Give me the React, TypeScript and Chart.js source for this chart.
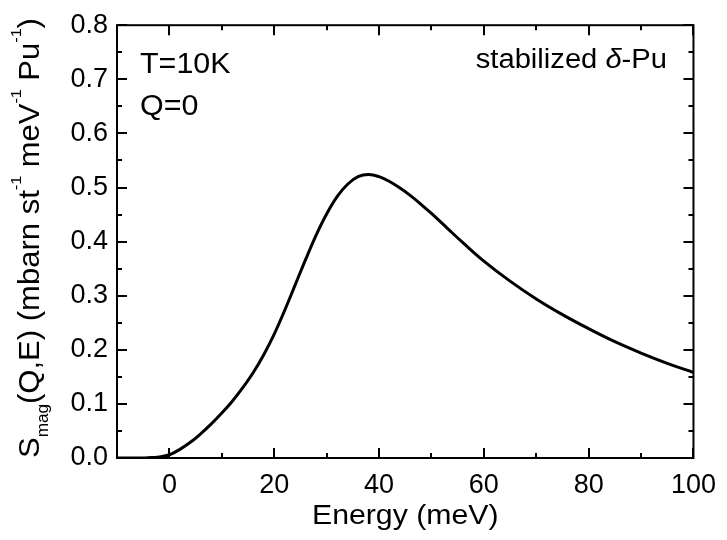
import React, { useEffect, useRef } from 'react';
import { Chart, registerables } from 'chart.js';
Chart.register(...registerables);

// ---- data ----
const energy = [-10, -8, -6, -4, -2, 0, 2, 4, 6, 8, 10, 12, 14, 16, 18, 20, 22, 24, 26, 28, 30, 32, 34, 36, 38, 40, 42, 44, 46, 48, 50, 53, 56, 60, 65, 70, 75, 80, 85, 90, 95, 100];
const smag = [0, 0, 0, 0.0005, 0.002, 0.006, 0.016, 0.029, 0.045, 0.063, 0.083, 0.105, 0.13, 0.158, 0.191, 0.229, 0.273, 0.32, 0.367, 0.412, 0.451, 0.483, 0.506, 0.52, 0.524, 0.52, 0.511, 0.499, 0.485, 0.469, 0.452, 0.425, 0.398, 0.364, 0.327, 0.294, 0.265, 0.239, 0.215, 0.194, 0.175, 0.158];
const xMajor = [0, 20, 40, 60, 80, 100];
const xMinor = [10, 30, 50, 70, 90];
const yMajor = [0, 0.1, 0.2, 0.3, 0.4, 0.5, 0.6, 0.7, 0.8];
const yMinor = [0.05, 0.15, 0.25, 0.35, 0.45, 0.55, 0.65, 0.75];
const xTitle = 'Energy (meV)';
const noteTemp = 'T=10K';
const noteQ = 'Q=0';

const FONT = '"Liberation Sans", Arial, Helvetica, sans-serif';

type Seg = { t: string; size: number; dy?: number; italic?: boolean };

function segFont(s: Seg) {
  return `${s.italic ? 'italic ' : ''}${s.size}px ${FONT}`;
}

function drawSegs(ctx: CanvasRenderingContext2D, segs: Seg[], x: number, y: number, align: 'left' | 'right' | 'center', rotate = 0, hscale = 1) {
  ctx.save();
  ctx.translate(x, y);
  if (rotate) ctx.rotate(rotate);
  ctx.scale(hscale, 1);
  let total = 0;
  for (const s of segs) {
    ctx.font = segFont(s);
    total += ctx.measureText(s.t).width;
  }
  let cx = align === 'left' ? 0 : align === 'right' ? -total : -total / 2;
  ctx.textBaseline = 'alphabetic';
  ctx.textAlign = 'left';
  ctx.fillStyle = '#000';
  for (const s of segs) {
    ctx.font = segFont(s);
    ctx.fillText(s.t, cx, s.dy ?? 0);
    cx += ctx.measureText(s.t).width;
  }
  ctx.restore();
}

const framePlugin = {
  id: 'framePlugin',
  afterDraw(chart: any) {
    const { ctx, chartArea: a, scales } = chart;
    const x = scales.x;
    const y = scales.y;
    ctx.save();
    ctx.strokeStyle = '#000';
    ctx.lineWidth = 2;
    ctx.strokeRect(a.left, a.top, a.right - a.left, a.bottom - a.top);
    ctx.beginPath();
    const maj = 10;
    const min = 5;
    for (const v of xMajor) {
      const px = Math.round(x.getPixelForValue(v));
      ctx.moveTo(px, a.bottom); ctx.lineTo(px, a.bottom - maj);
      ctx.moveTo(px, a.top); ctx.lineTo(px, a.top + maj);
    }
    for (const v of xMinor) {
      const px = Math.round(x.getPixelForValue(v));
      ctx.moveTo(px, a.bottom); ctx.lineTo(px, a.bottom - min);
      ctx.moveTo(px, a.top); ctx.lineTo(px, a.top + min);
    }
    for (const v of yMajor) {
      const py = Math.round(y.getPixelForValue(v));
      ctx.moveTo(a.left, py); ctx.lineTo(a.left + maj, py);
      ctx.moveTo(a.right, py); ctx.lineTo(a.right - maj, py);
    }
    for (const v of yMinor) {
      const py = Math.round(y.getPixelForValue(v));
      ctx.moveTo(a.left, py); ctx.lineTo(a.left + min, py);
      ctx.moveTo(a.right, py); ctx.lineTo(a.right - min, py);
    }
    ctx.stroke();
    ctx.restore();

    // y-axis title
    drawSegs(ctx, [
      { t: 'S', size: 29 },
      { t: 'mag', size: 16, dy: 9 },
      { t: '(Q,E) (mbarn st', size: 29 },
      { t: '-1', size: 15, dy: -18 },
      { t: ' meV', size: 29 },
      { t: '-1', size: 15, dy: -18 },
      { t: ' Pu', size: 29 },
      { t: '-1', size: 15, dy: -18 },
      { t: ')', size: 29 },
    ], 39, 458, 'left', -Math.PI / 2, 1.07);

    // x-axis title
    drawSegs(ctx, [{ t: xTitle, size: 28 }], (a.left + a.right) / 2, 524, 'center', 0, 1.08);

    // annotations
    drawSegs(ctx, [{ t: noteTemp, size: 29 }], 140, 73, 'left', 0, 1.05);
    drawSegs(ctx, [{ t: noteQ, size: 29 }], 140, 115, 'left', 0, 1.05);
    drawSegs(ctx, [
      { t: 'stabilized ', size: 27 },
      { t: 'δ', size: 27, italic: true },
      { t: '-Pu', size: 27 },
    ], 667, 68, 'right', 0, 1.08);
  },
};

export default function App() {
  const ref = useRef<HTMLCanvasElement | null>(null);
  useEffect(() => {
    if (!ref.current) return;
    const chart = new Chart(ref.current, {
      type: 'line',
      data: {
        datasets: [{
          data: energy.map((e, i) => ({ x: e, y: smag[i] })),
          borderColor: '#000',
          borderWidth: 3,
          pointRadius: 0,
          fill: false,
          tension: 0.4,
        }],
      },
      options: {
        animation: false,
        responsive: false,
        devicePixelRatio: 1,
        layout: { padding: { top: 22, right: 29, left: 0, bottom: 0 } },
        plugins: { legend: { display: false }, tooltip: { enabled: false } },
        scales: {
          x: {
            type: 'linear',
            min: -10,
            max: 100,
            grid: { display: false, drawTicks: false },
            border: { display: false },
            afterBuildTicks: (s: any) => { s.ticks = xMajor.map((v) => ({ value: v })); },
            afterFit: (s: any) => { s.height = 82; },
            ticks: { color: '#000', font: { family: FONT, size: 27 }, padding: 11, maxRotation: 0 },
          },
          y: {
            type: 'linear',
            min: 0,
            max: 0.8,
            grid: { display: false, drawTicks: false },
            border: { display: false },
            afterBuildTicks: (s: any) => { s.ticks = yMajor.map((v) => ({ value: v })); },
            afterFit: (s: any) => { s.width = 117; },
            ticks: { color: '#000', font: { family: FONT, size: 27 }, padding: 9, callback: (v: any) => Number(v).toFixed(1) },
          },
        },
      },
      plugins: [framePlugin],
    } as any);
    return () => chart.destroy();
  }, []);
  return (
    <div style={{ position: 'absolute', left: 0, top: 0, width: 727, height: 540, background: '#fff' }}>
      <canvas ref={ref} width={727} height={540} />
    </div>
  );
}
